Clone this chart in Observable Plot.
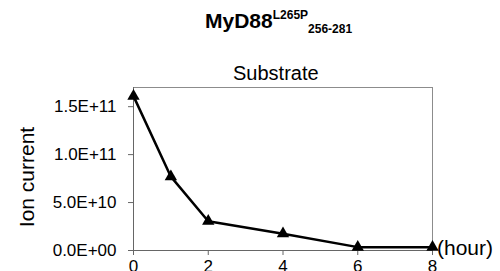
<!DOCTYPE html>
<html>
<head>
<meta charset="utf-8">
<script src="https://cdn.jsdelivr.net/npm/d3@7"></script>
<script src="https://cdn.jsdelivr.net/npm/@observablehq/plot@0.6"></script>
<style>
  html, body { margin: 0; padding: 0; background: #fff; }
  #wrap { position: relative; width: 500px; height: 271px; font-family: Arial, "Liberation Sans", sans-serif; color: #000; }
  #wrap svg { position: absolute; left: 0; top: 0; }
  .lbl { position: absolute; white-space: nowrap; line-height: 1; }
</style>
</head>
<body>
<div id="wrap"></div>
<script>
const hours = [0, 1, 2, 4, 6, 8];
const ionCurrent = [1.61e11, 7.7e10, 3.05e10, 1.75e10, 3.5e9, 3.5e9];
const xTicks = [0, 2, 4, 6, 8];
const yTicks = [0, 5e10, 1e11, 1.5e11];

const data = hours.map((h, i) => ({hour: h, value: ionCurrent[i]}));

function sci(d) {
  if (d === 0) return "0.0E+00";
  const [m, e] = d.toExponential(1).split("e");
  const sign = e[0] === "-" ? "-" : "+";
  const ex = e.replace(/^[+-]/, "").padStart(2, "0");
  return m + "E" + sign + ex;
}

const chart = Plot.plot({
  width: 500,
  height: 271,
  marginLeft: 133,
  marginRight: 68,
  marginTop: 87,
  marginBottom: 21,
  style: {fontFamily: "Arial, 'Liberation Sans', sans-serif", background: "transparent", overflow: "visible"},
  x: {domain: [0, 8]},
  y: {domain: [0, 1.7e11]},
  marks: [
    Plot.frame({stroke: "#8c8c8c"}),
    Plot.axisX({ticks: xTicks, tickSize: 5, tickPadding: 4, fontSize: 17, label: null, stroke: "#666"}),
    Plot.axisY({ticks: yTicks, tickSize: 5, tickPadding: 12, fontSize: 17, label: null, tickFormat: sci, stroke: "#666"}),
    Plot.ruleX([0], {stroke: "#666"}),
    Plot.ruleY([0], {stroke: "#666"}),
    Plot.line(data, {x: "hour", y: "value", stroke: "#000", strokeWidth: 2.5}),
    Plot.dot(data, {x: "hour", y: "value", symbol: "triangle", fill: "#000", r: 4.6})
  ]
});

const wrap = document.getElementById("wrap");
wrap.appendChild(chart);

function addLabel(html, css) {
  const d = document.createElement("div");
  d.className = "lbl";
  d.innerHTML = html;
  Object.assign(d.style, css);
  wrap.appendChild(d);
  return d;
}

addLabel('<span style="font-size:21px">MyD88</span><span style="font-size:12px;position:relative;top:-9px">L265P</span><span style="font-size:12px;position:relative;top:5px">256-281</span>',
  {left: "205px", top: "10px", fontWeight: "bold"});
addLabel("Substrate", {left: "233px", top: "63px", fontSize: "20px"});
addLabel("(hour)", {left: "437px", top: "237px", fontSize: "21px"});
addLabel("Ion current", {left: "26px", top: "177px", fontSize: "21px", transform: "translate(-50%, -50%) rotate(-90deg)"});
</script>
</body>
</html>
